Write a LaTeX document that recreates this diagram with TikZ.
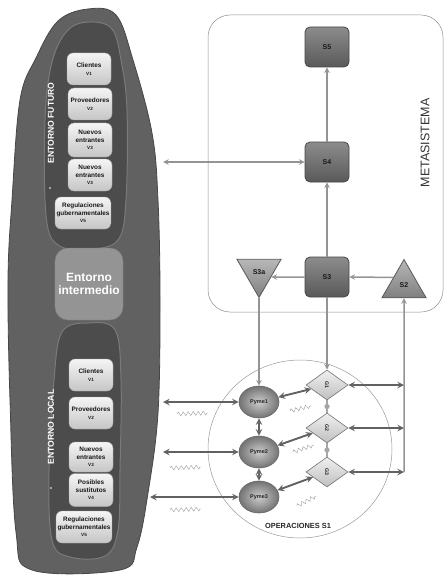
\documentclass[tikz,border=0pt]{standalone}
\usepackage{fontspec}
\setmainfont{Liberation Sans}
\usetikzlibrary{shapes.geometric,decorations.pathmorphing,calc}

\tikzset{
  vbox/.style={draw=gray!70, rounded corners=6pt, top color=gray!8, bottom color=gray!45,
    minimum width=44pt, minimum height=32pt, inner sep=1.5pt, align=center,
    text=black!90, font=\fontsize{6.4}{7.6}\selectfont\bfseries},
  sbox/.style={draw=black!72, line width=0.8pt, rounded corners=5pt,
    top color=black!45, bottom color=black!65, minimum width=44pt, minimum height=40pt,
    font=\fontsize{7}{8}\selectfont\bfseries, text=black!90},
  tribox/.style={regular polygon, regular polygon sides=3, draw=black!65, line width=0.8pt,
    top color=black!28, bottom color=black!50, minimum size=51pt, inner sep=0pt,
    font=\fontsize{7}{8}\selectfont\bfseries, text=black!90},
  pyme/.style={ellipse, draw=black!60, line width=0.6pt, inner color=black!20, outer color=black!55,
    minimum width=40pt, minimum height=32pt, inner sep=0pt,
    font=\fontsize{5.5}{6}\selectfont\bfseries, text=black!85},
  gdiam/.style={diamond, draw=black!55, line width=0.6pt, top color=gray!12, bottom color=gray!50,
    minimum width=42pt, minimum height=30pt, inner sep=0pt,
    font=\fontsize{5.2}{6}\selectfont\bfseries, text=black!85},
  minidiam/.style={diamond, fill=black!35, minimum width=6pt, minimum height=9pt, inner sep=0pt},
  vlabel/.style={rotate=90, text=white, font=\fontsize{8.6}{9}\selectfont\bfseries},
  gline/.style={draw=black!42, line width=1.5pt, ->},
  dline/.style={draw=black!62, line width=1.9pt, <->},
  zz/.style={draw=black!38, line width=0.4pt, decorate,
    decoration={zigzag, segment length=5pt, amplitude=2pt}}
}

\begin{document}
\begin{tikzpicture}[>=stealth, x=1pt, y=-1pt]
  \useasboundingbox (0,0) rectangle (446,575);

  % ============================================================
  % LINKS: entorno
  % ============================================================

  % Buitenvorm
  \draw[fill=black!62, draw=black!72, line width=0.8pt] plot[smooth cycle, tension=0.6] coordinates {
    (88,9) (116,15) (133,60) (152,133) (158,200) (160,300) (158,413) (148,493)
    (137,547) (120,570) (32,570) (16,532) (10,400) (8,280) (12,200) (20,100) (36,58) (58,21)};

  % Binnenvormen
  \draw[fill=black!70, draw=black!52, line width=1pt] plot[smooth cycle, tension=0.6] coordinates {
    (90,22) (112,29) (121,60) (127,110) (126,200) (118,240) (90,249) (58,245)
    (46,215) (45,120) (52,62) (68,30)};
  \draw[fill=black!70, draw=black!52, line width=1pt] plot[smooth cycle, tension=0.6] coordinates {
    (88,323) (115,330) (121,380) (120,470) (118,530) (105,556) (70,557)
    (52,540) (49,470) (54,380) (62,332)};

  % Entorno futuro
  \node[vbox] (f1) at (89,69)  {Clientes\\{\fontsize{4.6}{5}\selectfont V1}};
  \node[vbox] (f2) at (90,104) {Proveedores\\{\fontsize{4.6}{5}\selectfont V2}};
  \node[vbox, minimum height=34pt] (f3) at (90,140) {Nuevos\\entrantes\\{\fontsize{4.6}{5}\selectfont V3}};
  \node[vbox] (f4) at (90,175) {Nuevos\\entrantes\\{\fontsize{4.6}{5}\selectfont V3}};
  \node[vbox] (f5) at (83,213) {Regulaciones\\gubernamentales\\{\fontsize{4.6}{5}\selectfont V5}};
  \node[vlabel] (futuro) at (51,123) {ENTORNO FUTURO};
  \fill[white] (50,188) circle (0.9);

  % Entorno intermedio
  \node[fill=black!42, draw=black!50, rounded corners=13pt, minimum width=68pt, minimum height=72pt,
    align=center, text=white, font=\fontsize{12}{13}\selectfont\bfseries] (inter) at (89,284)
    {Entorno\\intermedio};

  % Entorno local
  \node[vbox] (l1) at (91,375) {Clientes\\{\fontsize{4.6}{5}\selectfont V1}};
  \node[vbox] (l2) at (91,413) {Proveedores\\{\fontsize{4.6}{5}\selectfont V2}};
  \node[vbox, minimum height=30pt] (l3) at (91,457) {Nuevos\\entrantes\\{\fontsize{4.6}{5}\selectfont V3}};
  \node[vbox, minimum height=33pt] (l4) at (91,490) {Posibles\\sustitutos\\{\fontsize{4.6}{5}\selectfont V4}};
  \node[vbox] (l5) at (84,527) {Regulaciones\\gubernamentales\\{\fontsize{4.6}{5}\selectfont V5}};
  \node[vlabel] (local) at (51,427) {ENTORNO LOCAL};
  \fill[white] (51,488) circle (0.9);

  % ============================================================
  % RECHTS: metasistema
  % ============================================================

  \draw[draw=black!45, line width=0.5pt, rounded corners=22pt] (208,15) rectangle (443,312);
  \node[rotate=90, text=black!80, font=\fontsize{12.5}{13}\selectfont] (meta) at (425,143) {METASISTEMA};

  \node[sbox] (S5) at (327,47)  {S5};
  \node[sbox] (S4) at (327,162) {S4};
  \node[sbox] (S3) at (327,277) {S3};
  \node[tribox, shape border rotate=180] (S3a) at (259,272) {S3a};
  \node[tribox] (S2) at (404,285) {\raisebox{-3pt}{S2}};

  \draw[gline] (S3) -- (S4);
  \draw[gline] (S4) -- (S5);
  \draw[gline] (S3.west) -- ($(S3a.corner 2)!0.46!(S3a.corner 1)$);
  \draw[gline] ($(S2.corner 1)!0.475!(S2.corner 2)$) -- (S3.east);

  % Pijl naar entorno
  \coordinate (eS4) at (163,162);
  \draw[gline, <->] (eS4) -- (S4);

  % ============================================================
  % ONDER: operaciones S1
  % ============================================================

  \draw[draw=black!40, line width=0.5pt] (300,449) ellipse (92 and 89);
  \node[text=black!85, font=\fontsize{7.4}{8}\selectfont\bfseries] (ops) at (298,526) {OPERACIONES S1};

  \node[pyme] (Pyme1) at (259,402) {Pyme1};
  \node[pyme] (Pyme2) at (259,452) {Pyme2};
  \node[pyme] (Pyme3) at (259,497) {Pyme3};

  \node[gdiam] (G1) at (327,385) {\rotatebox{-90}{G1}};
  \node[gdiam] (G2) at (327,428) {\rotatebox{-90}{G2}};
  \node[gdiam] (G3) at (327,472) {\rotatebox{-90}{G3}};

  % Sturing vanuit S3a, S3 en S2
  \draw[gline] (S3a.corner 1) -- (Pyme1);
  \draw[gline] (S3) -- (G1);
  \coordinate (bus1) at (G1 -| S2);
  \coordinate (bus2) at (G2 -| S2);
  \coordinate (bus3) at (G3 -| S2);
  \draw[gline, <-] (S2.south) -- (bus3);
  \draw[dline] (G1) -- (bus1);
  \draw[dline] (G2) -- (bus2);
  \draw[dline] (G3) -- (bus3);

  % Verbindingen binnen S1
  \draw[dline] (Pyme1) -- (G1);
  \draw[dline] (Pyme2) -- (G2);
  \draw[dline] (Pyme3) -- (G3);
  \draw[dline] (Pyme1) -- (Pyme2);
  \draw[dline] (Pyme2) -- (Pyme3);
  \draw[draw=black!35, line width=1.2pt] (G1) -- node[minidiam] (m12) {} (G2);
  \draw[draw=black!35, line width=1.2pt] (G2) -- node[minidiam] (m23) {} (G3);

  % Pijlen naar entorno local
  \coordinate (e1) at (163,402);
  \coordinate (e2) at (163,452);
  \coordinate (e3) at (150,497);
  \draw[dline] (e1) -- (Pyme1);
  \draw[dline] (e2) -- (Pyme2);
  \draw[dline] (e3) -- (Pyme3);

  % Storingen
  \draw[zz] (177,414) -- (208,413);
  \draw[zz] (170,468) -- (201,467);
  \draw[zz] (170,510) -- (201,509);
  \draw[zz] (290,411) -- (311,406);
  \draw[zz] (293,452) -- (314,445);
  \draw[zz] (297,506) -- (316,496);

\end{tikzpicture}
\end{document}
